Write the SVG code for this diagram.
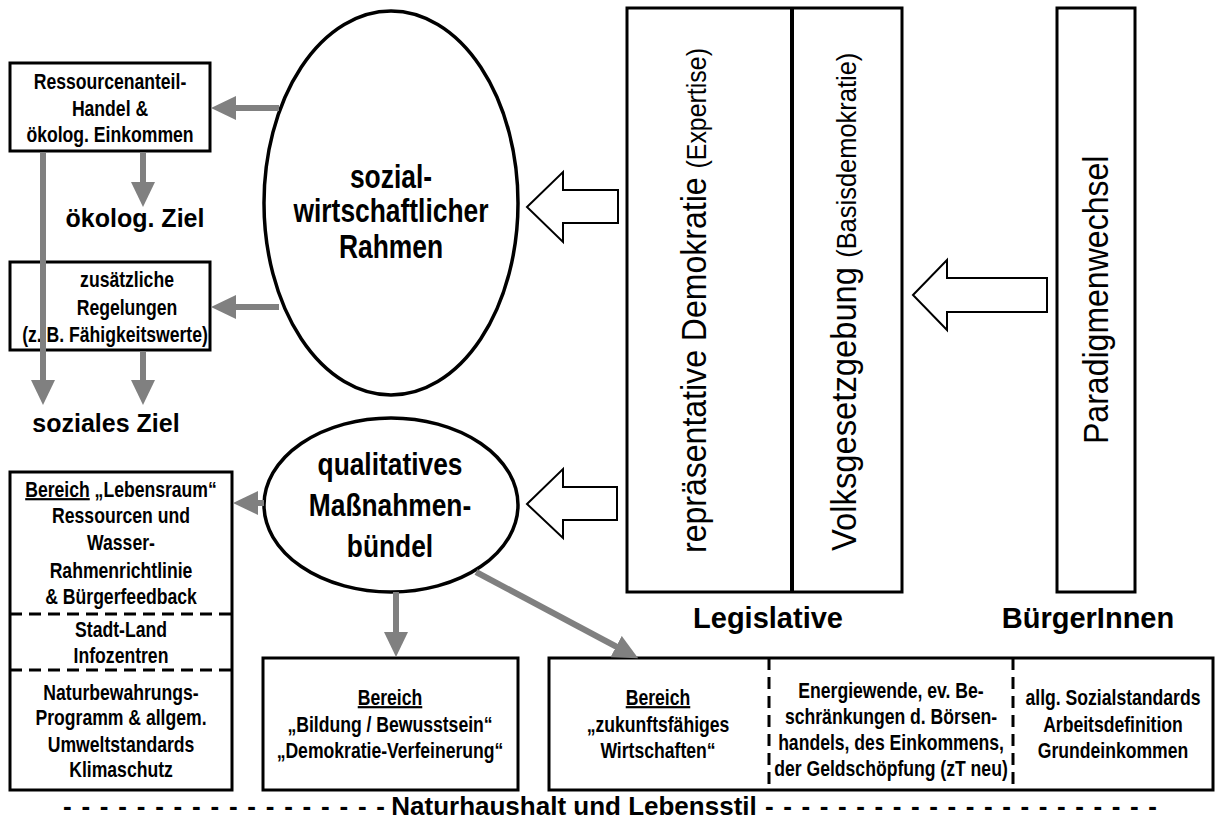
<svg xmlns="http://www.w3.org/2000/svg" width="1221" height="822" viewBox="0 0 1221 822">
<style>
.box{fill:#fff;stroke:#000;stroke-width:3}
.dash{fill:none;stroke:#000;stroke-width:3;stroke-dasharray:12 7}
.ell{fill:#fff;stroke:#000;stroke-width:3.5}
.hol{fill:#fff;stroke:#000;stroke-width:2}
.con{fill:none;stroke:#808080;stroke-width:6}
.t{font-family:"Liberation Sans",Arial,sans-serif;font-weight:bold;font-size:22px;text-anchor:middle;fill:#000}
.big{font-family:"Liberation Sans",Arial,sans-serif;font-weight:bold;text-anchor:middle;fill:#000}
.ds{font-family:"Liberation Sans",Arial,sans-serif;font-weight:bold;font-size:26px;text-anchor:start;fill:#000}
.v{font-family:"Liberation Sans",Arial,sans-serif;font-size:36px;fill:#000}
.u{text-decoration:underline}
</style>
<defs>
<marker id="ah" viewBox="0 0 25 24" markerWidth="25" markerHeight="24" refX="1" refY="12" orient="auto" markerUnits="userSpaceOnUse">
<path d="M0,0 L25,12 L0,24 Z" fill="#808080"/>
</marker>
</defs>

<g id="box-ressourcen">
<rect class="box" x="10" y="63" width="200" height="88"/>
<g transform="translate(110 0) scale(0.8 1)"><text class="t" x="0" y="89">Ressourcenanteil-</text><text class="t" x="0" y="116">Handel &amp;</text><text class="t" x="0" y="142">ökolog. Einkommen</text></g>
</g>
<g id="oekolog-ziel"><text class="big" x="135" y="227" font-size="25">ökolog. Ziel</text></g>
<g id="box-regelungen">
<rect class="box" x="10" y="262" width="200" height="88"/>
<g transform="translate(127 0) scale(0.8 1)"><text class="t" x="0" y="287">zusätzliche</text><text class="t" x="0" y="315">Regelungen</text></g>
<g transform="translate(115 0) scale(0.8 1)"><text class="t" x="0" y="342">(z. B. Fähigkeitswerte)</text></g>
</g>
<g id="soziales-ziel"><text class="big" x="106" y="432" font-size="25">soziales Ziel</text></g>

<g id="ellipse-rahmen">
<ellipse class="ell" cx="391" cy="203" rx="127" ry="192"/>
<g transform="translate(391 0) scale(0.8 1)"><text class="big" x="0" y="188" font-size="33">sozial-</text><text class="big" x="0" y="222" font-size="33">wirtschaftlicher</text><text class="big" x="0" y="258" font-size="33">Rahmen</text></g>
</g>
<g id="ellipse-massnahmen">
<ellipse class="ell" cx="391" cy="505" rx="127" ry="87"/>
<g transform="translate(390 0) scale(0.85 1)"><text class="big" x="0" y="475" font-size="31">qualitatives</text><text class="big" x="0" y="516" font-size="31">Maßnahmen-</text><text class="big" x="0" y="557" font-size="31">bündel</text></g>
</g>

<g id="legislative">
<rect class="box" x="627" y="8" width="275" height="584"/>
<line x1="792" y1="8" x2="792" y2="592" stroke="#000" stroke-width="4"/>
<text class="v" transform="translate(706 553) rotate(-90) scale(0.89 1)">repräsentative Demokratie <tspan font-size="28">(Expertise)</tspan></text>
<text class="v" transform="translate(856 551) rotate(-90) scale(0.91 1)">Volksgesetzgebung <tspan font-size="28">(Basisdemokratie)</tspan></text>
<text class="big" x="768" y="628" font-size="29">Legislative</text>
</g>
<g id="buergerinnen">
<rect class="box" x="1057" y="8" width="78" height="584"/>
<text class="v" transform="translate(1108 444) rotate(-90) scale(0.89 1)">Paradigmenwechsel</text>
<text class="big" x="1088" y="628" font-size="29">BürgerInnen</text>
</g>

<g id="box-lebensraum">
<rect class="box" x="10" y="472" width="222" height="318"/>
<line class="dash" x1="10" y1="614" x2="232" y2="614"/>
<line class="dash" x1="10" y1="670" x2="232" y2="670"/>
<g transform="translate(121 0) scale(0.8 1)">
<text class="t" x="0" y="497"><tspan class="u">Bereich</tspan> „Lebensraum“</text>
<text class="t" x="0" y="523">Ressourcen und</text>
<text class="t" x="0" y="550">Wasser-</text>
<text class="t" x="0" y="578">Rahmenrichtlinie</text>
<text class="t" x="0" y="604">&amp; Bürgerfeedback</text>
<text class="t" x="0" y="637">Stadt-Land</text>
<text class="t" x="0" y="663">Infozentren</text>
<text class="t" x="0" y="700">Naturbewahrungs-</text>
<text class="t" x="0" y="725">Programm &amp; allgem.</text>
<text class="t" x="0" y="752">Umweltstandards</text>
<text class="t" x="0" y="777">Klimaschutz</text>
</g>
</g>
<g id="box-bildung">
<rect class="box" x="263" y="658" width="255" height="132"/>
<g transform="translate(390 0) scale(0.8 1)">
<text class="t u" x="0" y="705">Bereich</text>
<text class="t" x="0" y="732">„Bildung / Bewusstsein“</text>
<text class="t" x="0" y="758">„Demokratie-Verfeinerung“</text>
</g>
</g>
<g id="box-wirtschaften">
<rect class="box" x="549" y="658" width="664" height="132"/>
<line class="dash" x1="769" y1="658" x2="769" y2="790"/>
<line class="dash" x1="1013" y1="658" x2="1013" y2="790"/>
<g transform="translate(658 0) scale(0.8 1)">
<text class="t u" x="0" y="705">Bereich</text>
<text class="t" x="0" y="732">„zukunftsfähiges</text>
<text class="t" x="0" y="758">Wirtschaften“</text>
</g>
<g transform="translate(891 0) scale(0.8 1)">
<text class="t" x="0" y="698">Energiewende, ev. Be-</text>
<text class="t" x="0" y="724">schränkungen d. Börsen-</text>
<text class="t" x="0" y="750">handels, des Einkommens,</text>
<text class="t" x="0" y="776">der Geldschöpfung (zT neu)</text>
</g>
<g transform="translate(1113 0) scale(0.8 1)">
<text class="t" x="0" y="705">allg. Sozialstandards</text>
<text class="t" x="0" y="732">Arbeitsdefinition</text>
<text class="t" x="0" y="758">Grundeinkommen</text>
</g>
</g>

<g id="footer">
<text class="ds" x="63" y="815" textLength="322" lengthAdjust="spacing">- - - - - - - - - - - - - - - - - -</text>
<text class="big" x="574" y="815" font-size="26">Naturhaushalt und Lebensstil</text>
<text class="ds" x="765" y="815" textLength="392" lengthAdjust="spacing">- - - - - - - - - - - - - - - - - - - - - -</text>
</g>

<g id="hollow-arrows">
<polygon class="hol" points="527,207 563,172 563,190 618,190 618,223 563,223 563,242"/>
<polygon class="hol" points="527,504 563,469 563,487 617,487 617,520 563,520 563,538"/>
<polygon class="hol" points="913,295 947,260 947,278 1047,278 1047,312 947,312 947,330"/>
</g>

<g id="connectors">
<line class="con" x1="279" y1="108" x2="235" y2="108" marker-end="url(#ah)"/>
<line class="con" x1="279" y1="307" x2="235" y2="307" marker-end="url(#ah)"/>
<line class="con" x1="143" y1="152" x2="143" y2="183" marker-end="url(#ah)"/>
<line class="con" x1="43" y1="152" x2="43" y2="381" marker-end="url(#ah)"/>
<line class="con" x1="143" y1="351" x2="143" y2="381" marker-end="url(#ah)"/>
<line class="con" x1="264" y1="503" x2="257" y2="503" marker-end="url(#ah)"/>
<line class="con" x1="396" y1="592" x2="396" y2="633" marker-end="url(#ah)"/>
<line class="con" x1="476" y1="572" x2="617" y2="647" marker-end="url(#ah)"/>
</g>
</svg>
